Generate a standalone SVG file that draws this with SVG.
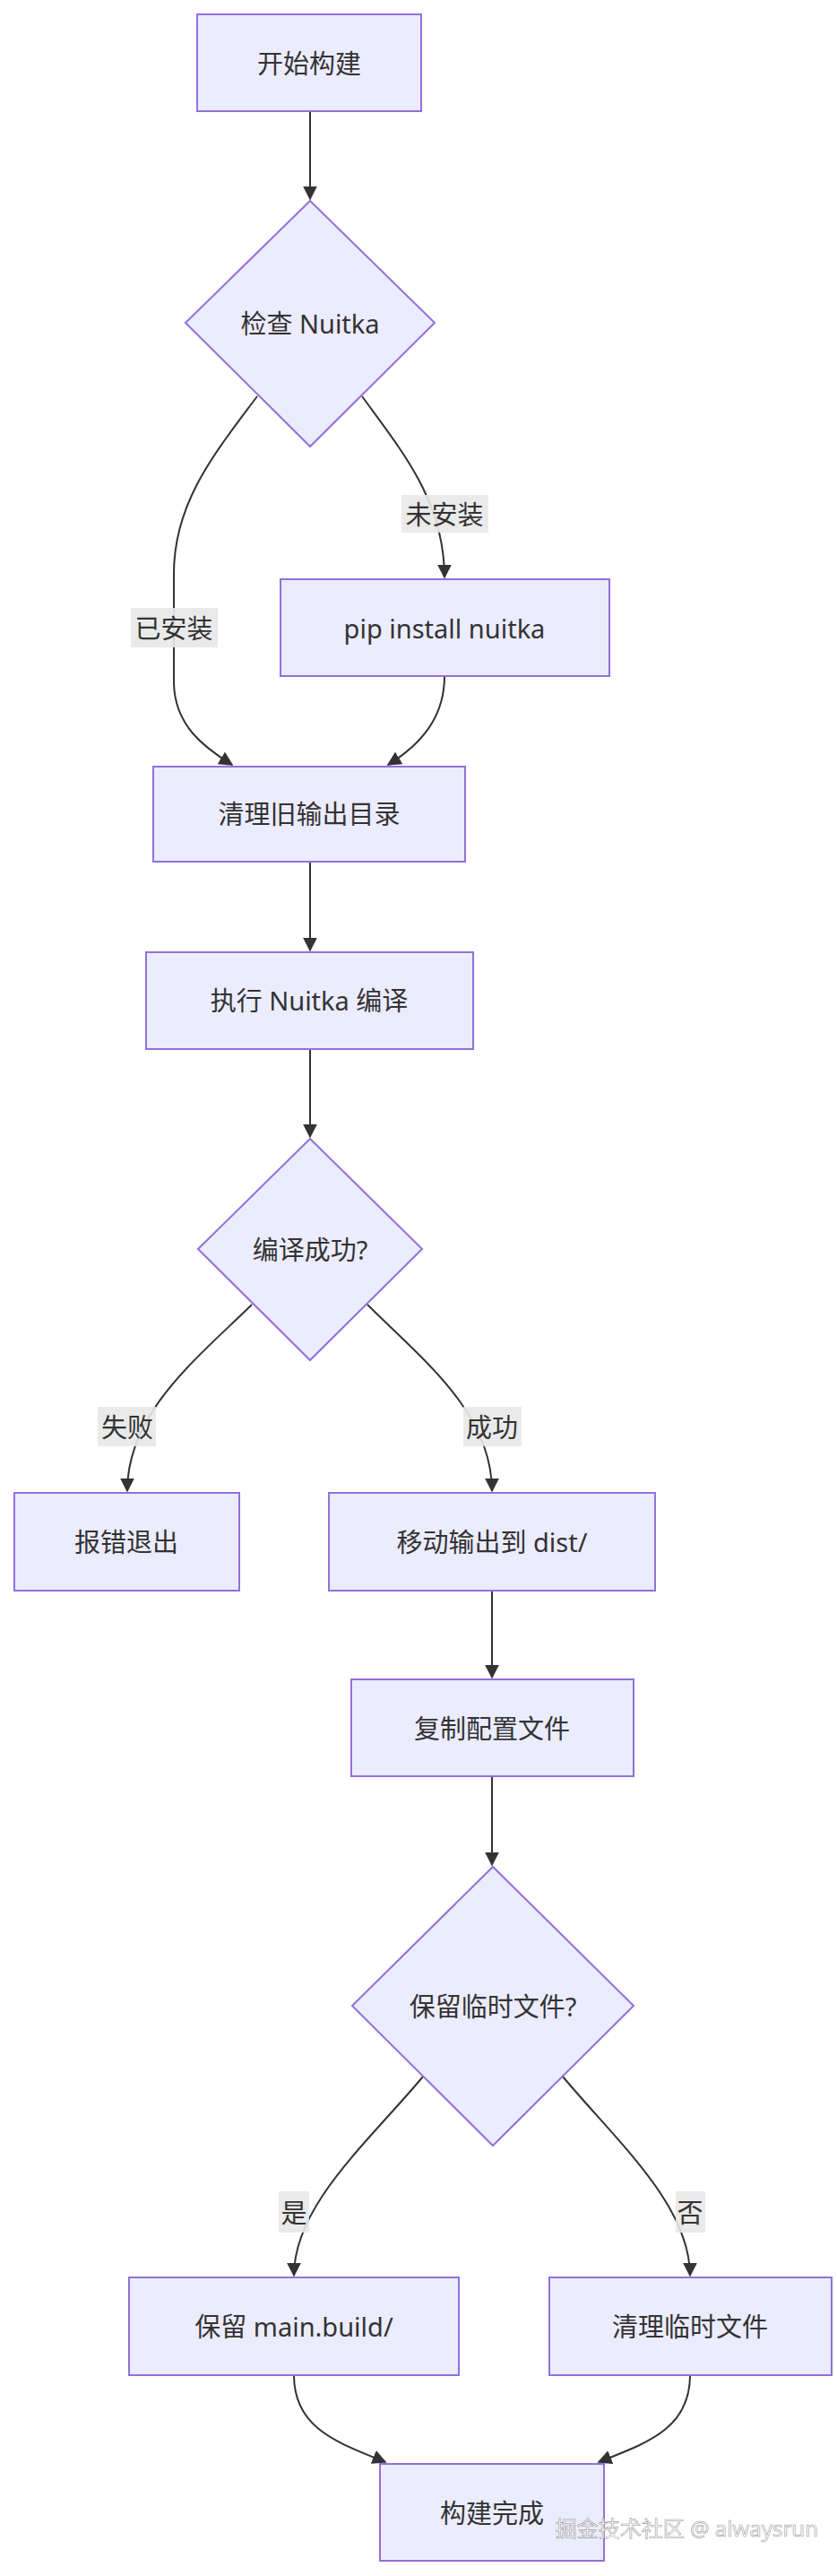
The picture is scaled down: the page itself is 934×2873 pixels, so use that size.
<svg xmlns="http://www.w3.org/2000/svg" width="934" height="2873" viewBox="0 0 934 2873">
<style>
.n{fill:#ECECFF;stroke:#9370DB;stroke-width:2}
.t{font-family:"Noto Sans","Noto Sans CJK SC",sans-serif;font-size:29px;fill:#333;text-anchor:middle;dominant-baseline:central}
.e{fill:none;stroke:#333;stroke-width:2;marker-end:url(#a)}
.lb{fill:#e8e8e8;opacity:0.9}
</style>
<defs><marker id="a" viewBox="0 0 10 10" refX="9" refY="5" markerWidth="8" markerHeight="8" orient="auto"><path d="M0,0L10,5L0,10z" fill="#333"/></marker></defs>
<rect width="934" height="2873" fill="#fff"/>
<g id="edges">
<path class="e" d="M346,117V222"/>
<path class="e" d="M287,442C240,505 194,560 194,640V760C194,810 230,835 259,853"/>
<path class="e" d="M404,442C450,505 496,560 496,644"/>
<path class="e" d="M496,754C496,800 470,830 433,853"/>
<path class="e" d="M346,961V1060"/>
<path class="e" d="M346,1170V1268"/>
<path class="e" d="M281,1455C220,1515 142,1575 142,1663"/>
<path class="e" d="M410,1455C470,1515 549,1575 549,1663"/>
<path class="e" d="M549,1774V1871"/>
<path class="e" d="M549,1981V2080"/>
<path class="e" d="M472,2316C410,2390 328,2460 328,2538"/>
<path class="e" d="M628,2316C690,2390 770,2460 770,2538"/>
<path class="e" d="M328,2649C328,2710 380,2725 430,2746"/>
<path class="e" d="M770,2649C770,2710 720,2725 668,2746"/>
</g>
<g id="labels">
<rect class="lb" x="448" y="552" width="97" height="42"/><text class="t" x="496" y="573">未安装</text>
<rect class="lb" x="146" y="678" width="97" height="44"/><text class="t" x="194" y="700">已安装</text>
<rect class="lb" x="109" y="569" width="65" height="44" transform="translate(0,1000)"/><text class="t" x="142" y="1591">失败</text>
<rect class="lb" x="517" y="1569" width="65" height="44"/><text class="t" x="549" y="1591">成功</text>
<rect class="lb" x="311" y="2444" width="34" height="46"/><text class="t" x="328" y="2467">是</text>
<rect class="lb" x="754" y="2444" width="33" height="46"/><text class="t" x="770" y="2467">否</text>
</g>
<g id="n1"><rect class="n" x="220" y="16" width="250" height="108"/><text class="t" x="345" y="70">开始构建</text></g>
<g id="n2"><polygon class="n" points="346,224 485,360 346,498 207,360"/><text class="t" x="346" y="360">检查 Nuitka</text></g>
<g id="n3"><rect class="n" x="313" y="646" width="367" height="108"/><text class="t" x="496" y="700">pip install nuitka</text></g>
<g id="n4"><rect class="n" x="171" y="855" width="348" height="106"/><text class="t" x="345" y="907">清理旧输出目录</text></g>
<g id="n5"><rect class="n" x="163" y="1062" width="365" height="108"/><text class="t" x="345" y="1115">执行 Nuitka 编译</text></g>
<g id="n6"><polygon class="n" points="346,1270 471,1393 346,1517 221,1393"/><text class="t" x="346" y="1393">编译成功?</text></g>
<g id="n7"><rect class="n" x="16" y="1665" width="251" height="109"/><text class="t" x="141" y="1719">报错退出</text></g>
<g id="n8"><rect class="n" x="367" y="1665" width="364" height="109"/><text class="t" x="549" y="1719">移动输出到 dist/</text></g>
<g id="n9"><rect class="n" x="392" y="1873" width="315" height="108"/><text class="t" x="549" y="1927">复制配置文件</text></g>
<g id="n10"><polygon class="n" points="550,2082 707,2237 550,2393 393,2237"/><text class="t" x="550" y="2237">保留临时文件?</text></g>
<g id="n11"><rect class="n" x="144" y="2540" width="368" height="109"/><text class="t" x="328" y="2594">保留 main.build/</text></g>
<g id="n12"><rect class="n" x="613" y="2540" width="315" height="109"/><text class="t" x="770" y="2594">清理临时文件</text></g>
<g id="n13"><rect class="n" x="424" y="2748" width="250" height="108"/><text class="t" x="549" y="2802">构建完成</text></g>
<text x="913" y="2829" font-family="'Noto Sans','Noto Sans CJK SC',sans-serif" font-size="24" fill="#fff" stroke="#999" stroke-width="0.6" text-anchor="end">掘金技术社区 @ alwaysrun</text>
</svg>
